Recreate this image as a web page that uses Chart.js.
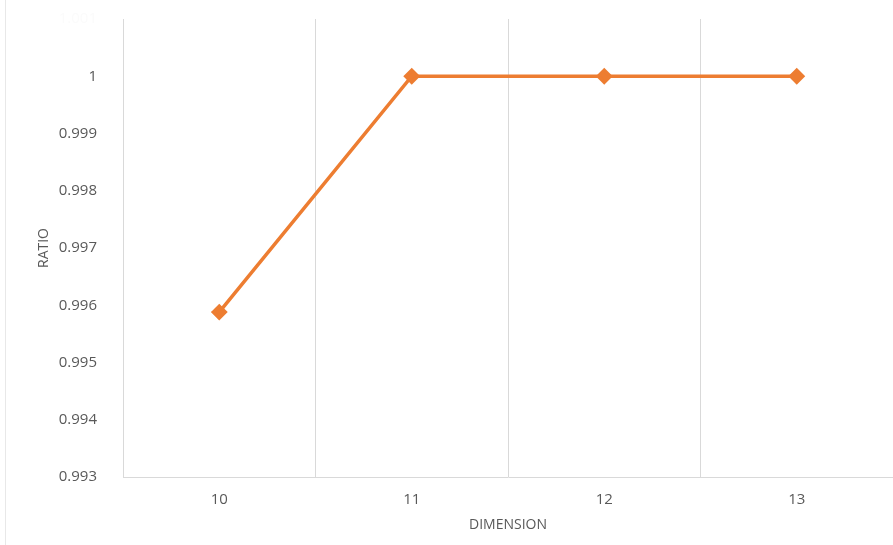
<!DOCTYPE html>
<html>
<head>
<meta charset="utf-8">
<script src="https://cdn.jsdelivr.net/npm/chart.js@4"></script>
<style>
  html, body { margin: 0; padding: 0; background: #fff; }
  #wrap { position: relative; width: 893px; height: 545px; }
  #edge { position: absolute; left: 5px; top: 0; width: 0; height: 545px; border-left: 1px solid #e8e8e8; }
</style>
</head>
<body>
<div id="wrap">
  <div id="edge"></div>
  <canvas id="chart" width="893" height="545"></canvas>
</div>
<script>
// ===== DATA =====
const dimensions = ['10', '11', '12', '13'];
const ratios = [0.99588, 1, 1, 1];
const yMin = 0.993;
const yMax = 1.001;
const yStep = 0.001;

const textColor = '#595959';
const gridColor = '#d9d9d9';

const ctx = document.getElementById('chart').getContext('2d');
new Chart(ctx, {
    type: 'line',
    data: {
        labels: dimensions,
        datasets: [{
            label: 'RATIO',
            data: ratios,
            borderColor: '#ED7D31',
            backgroundColor: '#ED7D31',
            borderWidth: 3.5,
            pointStyle: 'rectRot',
            pointRadius: 6,
            pointHoverRadius: 6,
            tension: 0
        }]
    },
    options: {
        responsive: false,
        animation: false,
        layout: { autoPadding: false, padding: { left: 0, right: -4, top: 19, bottom: 0 } },
        plugins: {
            legend: { display: false },
            tooltip: { enabled: false }
        },
        scales: {
            x: {
                offset: true,
                grid: {
                    display: true, offset: true, color: gridColor,
                    drawTicks: true, tickLength: 12, tickColor: 'rgba(0,0,0,0)'
                },
                border: { display: true, color: gridColor },
                ticks: {
                    color: textColor,
                    font: { family: 'Open Sans', size: 15 },
                    padding: 2
                },
                title: {
                    display: true,
                    text: 'DIMENSION',
                    color: textColor,
                    font: { family: 'Open Sans', size: 14 },
                    padding: { top: 4, bottom: 12 }
                },
                afterFit: (scale) => {
                    scale.height = 68;
                    scale.paddingLeft = 0;
                    scale.paddingRight = 0;
                }
            },
            y: {
                min: yMin,
                max: yMax,
                grid: { display: false },
                border: { display: true, color: gridColor },
                ticks: {
                    stepSize: yStep,
                    color: (c) => c.tick && c.tick.value > 1.0005 ? '#fbfbfb' : textColor,
                    font: { family: 'Open Sans', size: 15 },
                    padding: 18,
                    callback: (v) => parseFloat(v.toFixed(3)).toString()
                },
                title: {
                    display: true,
                    text: 'RATIO',
                    color: textColor,
                    font: { family: 'Open Sans', size: 14 },
                    padding: { top: 36, bottom: 0 }
                },
                afterFit: (scale) => {
                    scale.width = 123;
                    scale.paddingTop = 0;
                    scale.paddingBottom = 0;
                }
            }
        }
    }
});
</script>
</body>
</html>
